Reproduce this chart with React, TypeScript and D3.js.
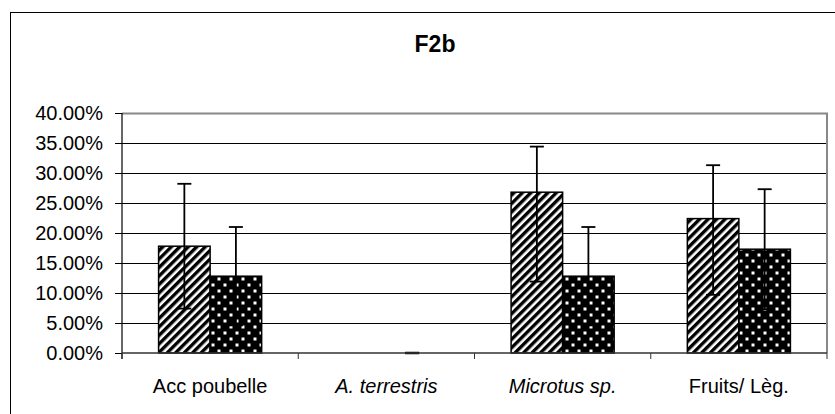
import React from "react";
import * as d3 from "d3";

const categories = ["Acc poubelle", "A. terrestris", "Microtus sp.", "Fruits/ Lèg."];
const italicCats = [false, true, true, false];
const seriesKeys = ["hatched", "dotted"];
const hatchedValues = [0.178, 0, 0.268, 0.224];
const hatchedPlus: (number | null)[] = [0.104, null, 0.076, 0.089];
const hatchedMinus: (number | null)[] = [0.104, null, 0.149, 0.127];
const dottedValues = [0.128, 0, 0.128, 0.173];
const dottedPlus: (number | null)[] = [0.082, 0, 0.082, 0.1];
const dottedMinus: (number | null)[] = [0.082, 0, 0.082, 0.1];
const yTicks = [0, 0.05, 0.1, 0.15, 0.2, 0.25, 0.3, 0.35, 0.4];
const title = "F2b";

const W = 835;
const H = 414;
const left = 122;
const right = 827;
const top = 113;
const bottom = 353;
const FONT = "'Liberation Sans', Arial, sans-serif";

export default function App() {
  const x = d3.scaleBand<string>().domain(categories).range([left, right]).paddingInner(0).paddingOuter(0);
  const xs = d3.scaleBand<string>().domain(seriesKeys).range([0, x.bandwidth()]).paddingInner(0).paddingOuter(0.71);
  const y = d3.scaleLinear().domain([0, 0.4]).range([bottom, top]);
  const fmt = d3.format(".2%");
  const series = [
    { key: "hatched", values: hatchedValues, plus: hatchedPlus, minus: hatchedMinus, fill: "url(#hatch)" },
    { key: "dotted", values: dottedValues, plus: dottedPlus, minus: dottedMinus, fill: "url(#dots)" },
  ];
  const bw = xs.bandwidth();
  const capHalf = 7;
  const boundaries = categories.map((c) => x(c)!).concat([right]);

  return (
    <svg width={W} height={H} style={{ position: "absolute", left: 0, top: 0, background: "#fff" }}>
      <defs>
        <pattern id="hatch" width={6} height={10} patternUnits="userSpaceOnUse" patternTransform="rotate(45)">
          <rect width={6} height={10} fill="#fff" />
          <rect width={3.4} height={10} fill="#000" />
        </pattern>
        <pattern id="dots" width={12} height={12} patternUnits="userSpaceOnUse">
          <rect width={12} height={12} fill="#000" />
          <rect x={1.5} y={1.5} width={3} height={3} fill="#fff" />
          <rect x={7.5} y={7.5} width={3} height={3} fill="#fff" />
        </pattern>
      </defs>
      <rect x={0} y={0} width={W} height={H} fill="#fff" />
      <rect x={10.5} y={12.5} width={W} height={H} fill="none" stroke="#000" strokeWidth={1} />
      <text x={435} y={52} textAnchor="middle" fontFamily={FONT} fontWeight="bold" fontSize={23} fill="#000">
        {title}
      </text>
      {/* gridlines */}
      {yTicks.filter((t) => t > 0 && t < 0.4).map((t) => (
        <line key={"g" + t} x1={left} x2={right} y1={Math.round(y(t)) + 0.5} y2={Math.round(y(t)) + 0.5} stroke="#000" strokeWidth={1} />
      ))}
      {/* plot border top/right */}
      <path d={`M${left},${top + 0.5}H${right}V${bottom}`} fill="none" stroke="#888" strokeWidth={2} />
      {/* bars */}
      {series.map((s) =>
        categories.map((c, i) => {
          const v = s.values[i];
          if (v <= 0) return null;
          const bx = x(c)! + xs(s.key)!;
          return (
            <rect key={s.key + c} x={bx} y={y(v)} width={bw} height={bottom - y(v)} fill={s.fill} stroke="#000" strokeWidth={1.5} />
          );
        })
      )}
      {/* error bars */}
      {series.map((s) =>
        categories.map((c, i) => {
          const p = s.plus[i];
          const m = s.minus[i];
          if (p === null || m === null) return null;
          const v = s.values[i];
          const cx = x(c)! + xs(s.key)! + bw / 2;
          const yt = y(v + p);
          const yb = y(v - m);
          return (
            <g key={"e" + s.key + c} stroke="#000" strokeWidth={1.8}>
              <line x1={cx} x2={cx} y1={yt} y2={yb} />
              <line x1={cx - capHalf} x2={cx + capHalf} y1={yt} y2={yt} strokeWidth={p === 0 ? 2.5 : 1.8} />
              <line x1={cx - capHalf} x2={cx + capHalf} y1={yb} y2={yb} />
            </g>
          );
        })
      )}
      {/* y axis */}
      <line x1={left} x2={left} y1={top} y2={bottom + 6} stroke="#000" strokeWidth={1.2} />
      {yTicks.map((t) => (
        <g key={"t" + t}>
          <line x1={left - 7} x2={left} y1={Math.round(y(t)) + 0.5} y2={Math.round(y(t)) + 0.5} stroke="#000" strokeWidth={1} />
          <text x={left - 19} y={y(t) + 7} textAnchor="end" fontFamily={FONT} fontSize={20} fill="#000">
            {fmt(t)}
          </text>
        </g>
      ))}
      {/* x axis */}
      <line x1={left} x2={right} y1={bottom} y2={bottom} stroke="#333" strokeWidth={1.5} />
      {boundaries.map((b, i) => (
        <line key={"xb" + i} x1={b} x2={b} y1={bottom} y2={bottom + 6} stroke="#333" strokeWidth={1} />
      ))}
      {categories.map((c, i) => (
        <text key={"c" + c} x={x(c)! + x.bandwidth() / 2} y={393} textAnchor="middle" fontFamily={FONT} fontSize={20} fontStyle={italicCats[i] ? "italic" : "normal"} fill="#000">
          {c}
        </text>
      ))}
    </svg>
  );
}
